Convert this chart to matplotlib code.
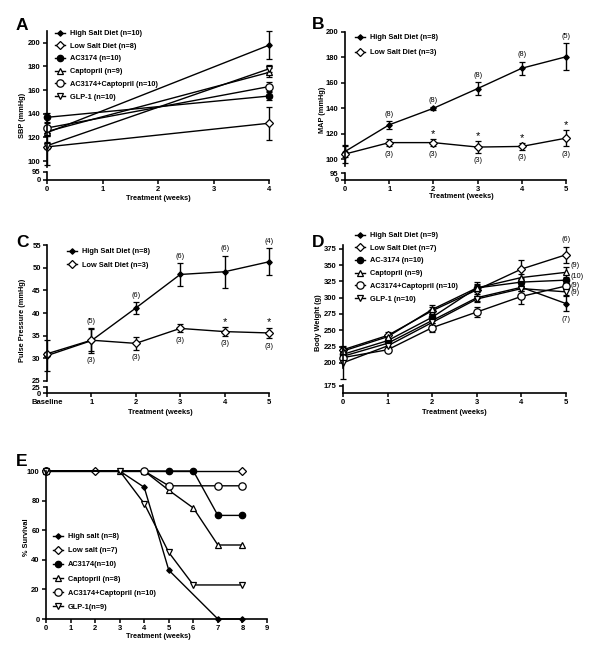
import matplotlib
matplotlib.use('Agg')
import matplotlib.pyplot as plt

plt.rcParams['font.family'] = ['Liberation Sans', 'DejaVu Sans']
plt.rcParams['font.weight'] = 'bold'

W, H = 600, 658

# ---- data ----
# A: systolic blood pressure
weeks_a = [0, 4]
sbp_high, sbp_high_err = [124, 198], [3, 12]
sbp_low, sbp_low_err = [112, 132], [15, 14]
sbp_ac, sbp_ac_err = [137, 155], [4, 3]
sbp_capt, sbp_capt_err = [125, 175], [4, 4]
sbp_combo, sbp_combo_err = [128, 163], [4, 4]
sbp_glp, sbp_glp_err = [113, 178], [3, 3]

# B: mean arterial pressure
weeks_b = [0, 1, 2, 3, 4, 5]
map_high, map_high_err = [106, 127, 140, 155.5, 171.5, 180.5], [4, 3, 1, 5, 5, 10.5]
map_low, map_low_err = [104, 113, 113, 109.5, 110, 116.5], [7, 3, 3, 4.5, 2.5, 6.5]
map_high_n = ['', '(8)', '(8)', '(8)', '(8)', '(5)']
map_low_n = ['', '(3)', '(3)', '(3)', '(3)', '(3)']
map_star = [False, False, True, True, True, True]

# C: pulse pressure
weeks_c = [0, 1, 2, 3, 4, 5]
weeks_c_labels = ['Baseline', '1', '2', '3', '4', '5']
pp_high, pp_high_err = [30.6, 33.9, 41.1, 48.5, 49.1, 51.3], [3.5, 2.7, 1.3, 2.5, 3.5, 3]
pp_low, pp_low_err = [31, 34, 33.3, 36.6, 35.9, 35.6], [0.5, 2.4, 1.5, 0.9, 1, 1.2]
pp_high_n = ['', '(5)', '(6)', '(6)', '(6)', '(4)']
pp_low_n = ['', '(3)', '(3)', '(3)', '(3)', '(3)']
pp_star = [False, False, False, False, True, True]

# D: body weight
weeks_d = [0, 1, 2, 3, 4, 5]
bw_high, bw_high_err = [210, 230, 265, 300, 316, 291], [4, 4, 4, 5, 5, 12]
bw_low, bw_low_err = [220, 242, 280, 312, 344, 366], [6, 5, 5, 12, 14, 12]
bw_ac, bw_ac_err = [213, 234, 270, 315, 324, 327], [4, 4, 5, 6, 5, 5]
bw_capt, bw_capt_err = [218, 240, 282, 315, 331, 339], [4, 4, 7, 5, 5, 8]
bw_combo, bw_combo_err = [208, 220, 254, 278, 302, 318], [4, 3, 7, 8, 11, 5]
bw_glp, bw_glp_err = [200, 226, 262, 298, 314, 309], [25, 4, 4, 4, 4, 5]

# E: survival
surv_high_x, surv_high = [0, 3, 4, 5, 7, 8], [100, 100, 89, 33, 0, 0]
surv_low_x, surv_low = [0, 2, 8], [100, 100, 100]
surv_ac_x, surv_ac = [0, 5, 6, 7, 8], [100, 100, 100, 70, 70]
surv_capt_x, surv_capt = [0, 3, 4, 5, 6, 7, 8], [100, 100, 100, 87, 75, 50, 50]
surv_combo_x, surv_combo = [0, 4, 5, 7, 8], [100, 100, 90, 90, 90]
surv_glp_x, surv_glp = [0, 3, 4, 5, 6, 8], [100, 100, 78, 45, 23, 23]

STYLE = {
    'high': dict(marker='D', ms=2.8, mfc='k'),
    'low': dict(marker='D', ms=4, mfc='white'),
    'ac': dict(marker='o', ms=4.6, mfc='k'),
    'capt': dict(marker='^', ms=4.6, mfc='white'),
    'combo': dict(marker='o', ms=5.3, mfc='white'),
    'glp': dict(marker='v', ms=4.6, mfc='white'),
}

TICK = 5.5
LABEL = 5.3
NOTE = 5.2


def rect(x0, x1, y0, y1):
    return [x0 / W, 1 - y1 / H, (x1 - x0) / W, (y1 - y0) / H]


def style_axis(ax):
    ax.spines['top'].set_visible(False)
    ax.spines['right'].set_visible(False)
    for s in ('left', 'bottom'):
        ax.spines[s].set_linewidth(1.2)
    ax.tick_params(direction='out', length=3, width=1.1, pad=1.5, labelsize=TICK)
    ax.patch.set_visible(False)


def broken_axes(fig, x0, x1, top, split, btop, bot):
    ax = fig.add_axes(rect(x0, x1, top, split))
    axb = fig.add_axes(rect(x0, x1, btop, bot), sharex=ax)
    style_axis(ax)
    style_axis(axb)
    ax.spines['bottom'].set_visible(False)
    ax.tick_params(axis='x', bottom=False, labelbottom=False)
    return ax, axb


def series(ax, x, y, err, key, label):
    if err is None:
        line, = ax.plot(x, y, color='k', lw=1, mec='k', mew=0.9, clip_on=False, **STYLE[key])
    else:
        eb = ax.errorbar(x, y, yerr=err, color='k', lw=1, elinewidth=1, capsize=2.5,
                         capthick=1, mec='k', mew=0.9, **STYLE[key])
        for art in eb.get_children():
            art.set_clip_on(False)
        line = eb[0]
    line.set_label(label)
    return line


def legend(fig, ax, handles, x, y, spacing):
    ax.legend(handles=handles, loc='upper left', bbox_to_anchor=(x / W, 1 - y / H),
              bbox_transform=fig.transFigure, frameon=False, fontsize=LABEL,
              handlelength=1.4, handletextpad=0.6, labelspacing=spacing,
              borderaxespad=0, borderpad=0)


def note(ax, x, y, text, dy, va, size=NOTE, weight='normal', dx=0, ha='center'):
    ax.annotate(text, (x, y), xytext=(dx, dy), textcoords='offset points', ha=ha, va=va,
                fontsize=size, fontweight=weight, annotation_clip=False)


def panel_text(fig, letter, x, y, ylabel, ylx, yly, xlabel, xlx, xly):
    fig.text(x / W, 1 - y / H, letter, fontsize=12.5, fontweight='bold', va='baseline')
    fig.text(ylx / W, 1 - yly / H, ylabel, rotation=90, fontsize=LABEL, ha='center', va='center')
    fig.text(xlx / W, 1 - xly / H, xlabel, fontsize=LABEL, ha='center', va='center')


def chart_a(fig):
    ax, axb = broken_axes(fig, 47, 269, 31, 167, 172, 180)
    hs = [
        series(ax, weeks_a, sbp_high, sbp_high_err, 'high', 'High Salt Diet (n=10)'),
        series(ax, weeks_a, sbp_low, sbp_low_err, 'low', 'Low Salt Diet (n=8)'),
        series(ax, weeks_a, sbp_ac, sbp_ac_err, 'ac', 'AC3174 (n=10)'),
        series(ax, weeks_a, sbp_capt, sbp_capt_err, 'capt', 'Captopril (n=9)'),
        series(ax, weeks_a, sbp_combo, sbp_combo_err, 'combo', 'AC3174+Captopril (n=10)'),
        series(ax, weeks_a, sbp_glp, sbp_glp_err, 'glp', 'GLP-1 (n=10)'),
    ]
    ax.set_ylim(95, 210)
    ax.set_yticks(range(100, 201, 20))
    axb.set_ylim(0, 95)
    axb.set_yticks([0, 95])
    axb.set_xlim(0, 4)
    axb.set_xticks(range(0, 5))
    legend(fig, ax, hs, 55, 30, 0.75)
    panel_text(fig, 'A', 16, 30, 'SBP (mmHg)', 22, 115, 'Treatment (weeks)', 158, 199)


def chart_b(fig):
    ax, axb = broken_axes(fig, 345, 566, 32, 165.5, 173, 180)
    hs = [
        series(ax, weeks_b, map_high, map_high_err, 'high', 'High Salt Diet (n=8)'),
        series(ax, weeks_b, map_low, map_low_err, 'low', 'Low Salt Diet (n=3)'),
    ]
    for i, x in enumerate(weeks_b):
        if map_high_n[i]:
            note(ax, x, map_high[i] + map_high_err[i], map_high_n[i], 2.5, 'bottom')
        if map_low_n[i]:
            note(ax, x, map_low[i] - map_low_err[i], map_low_n[i], -3, 'top')
        if map_star[i]:
            note(ax, x, map_low[i] + map_low_err[i], '*', 0, 'bottom', size=8)
    ax.set_ylim(95, 200)
    ax.set_yticks(range(100, 201, 20))
    axb.set_ylim(0, 95)
    axb.set_yticks([0, 95])
    axb.set_xlim(0, 5)
    axb.set_xticks(weeks_b)
    legend(fig, ax, hs, 355, 34, 1.1)
    panel_text(fig, 'B', 312, 29, 'MAP (mmHg)', 322, 110, 'Treatment (weeks)', 461, 197)


def chart_c(fig):
    ax, axb = broken_axes(fig, 47, 269, 245, 381, 387, 393)
    hs = [
        series(ax, weeks_c, pp_high, pp_high_err, 'high', 'High Salt Diet (n=8)'),
        series(ax, weeks_c, pp_low, pp_low_err, 'low', 'Low Salt Diet (n=3)'),
    ]
    for i, x in enumerate(weeks_c):
        top = max(pp_high[i] + pp_high_err[i], pp_low[i] + pp_low_err[i])
        bot = min(pp_high[i] - pp_high_err[i], pp_low[i] - pp_low_err[i])
        if pp_high_n[i]:
            note(ax, x, top, pp_high_n[i], 2.5, 'bottom')
        if pp_low_n[i]:
            note(ax, x, bot, pp_low_n[i], -3, 'top')
        if pp_star[i]:
            note(ax, x, pp_low[i] + pp_low_err[i], '*', 0, 'bottom', size=8)
    ax.set_ylim(25, 55)
    ax.set_yticks(range(25, 56, 5))
    axb.set_ylim(0, 25)
    axb.set_yticks([0, 25])
    axb.set_xlim(0, 5)
    axb.set_xticks(weeks_c)
    axb.set_xticklabels(weeks_c_labels)
    legend(fig, ax, hs, 67, 248, 0.9)
    panel_text(fig, 'C', 16, 247, 'Pulse Pressure (mmHg)', 23, 320, 'Treatment (weeks)', 160, 413)


def chart_d(fig):
    ax, axb = broken_axes(fig, 343, 566, 245, 368, 385, 393)
    hs = [
        series(ax, weeks_d, bw_high, bw_high_err, 'high', 'High Salt Diet (n=9)'),
        series(ax, weeks_d, bw_low, bw_low_err, 'low', 'Low Salt Diet (n=7)'),
        series(ax, weeks_d, bw_ac, bw_ac_err, 'ac', 'AC-3174 (n=10)'),
        series(ax, weeks_d, bw_capt, bw_capt_err, 'capt', 'Captopril (n=9)'),
        series(ax, weeks_d, bw_combo, bw_combo_err, 'combo', 'AC3174+Captopril (n=10)'),
        series(ax, weeks_d, bw_glp, bw_glp_err, 'glp', 'GLP-1 (n=10)'),
    ]
    last = weeks_d[-1]
    note(ax, last, bw_low[-1] + bw_low_err[-1], '(6)', 2.5, 'bottom')
    note(ax, last, bw_high[-1] - bw_high_err[-1], '(7)', -3, 'top')
    note(ax, last, bw_capt[-1], '(9)', 5, 'center', dx=3.3, ha='left')
    note(ax, last, bw_ac[-1], '(10)', 2.6, 'center', dx=3.3, ha='left')
    note(ax, last, bw_combo[-1], '(9)', 0.7, 'center', dx=3.3, ha='left')
    note(ax, last, bw_glp[-1], '(9)', -0.7, 'center', dx=3.3, ha='left')
    ax.set_ylim(192, 381)
    ax.set_yticks(range(200, 376, 25))
    axb.set_ylim(168, 176)
    axb.set_yticks([175])
    axb.set_xlim(0, 5)
    axb.set_xticks(weeks_d)
    legend(fig, ax, hs, 355, 232, 0.75)
    panel_text(fig, 'D', 312, 247, 'Body Weight (g)', 318, 323, 'Treatment (weeks)', 454, 413)


def chart_e(fig):
    ax = fig.add_axes(rect(46, 267, 471, 619))
    style_axis(ax)
    hs = [
        series(ax, surv_high_x, surv_high, None, 'high', 'High salt (n=8)'),
        series(ax, surv_low_x, surv_low, None, 'low', 'Low salt (n=7)'),
        series(ax, surv_ac_x, surv_ac, None, 'ac', 'AC3174(n=10)'),
        series(ax, surv_capt_x, surv_capt, None, 'capt', 'Captopril (n=8)'),
        series(ax, surv_combo_x, surv_combo, None, 'combo', 'AC3174+Captopril (n=10)'),
        series(ax, surv_glp_x, surv_glp, None, 'glp', 'GLP-1(n=9)'),
    ]
    ax.set_ylim(0, 100)
    ax.set_yticks(range(0, 101, 20))
    ax.set_xlim(0, 9)
    ax.set_xticks(range(0, 10))
    legend(fig, ax, hs, 53, 533, 0.95)
    panel_text(fig, 'E', 16, 466, '% Survival', 27, 537, 'Treatment (weeks)', 158, 637)


def main():
    fig = plt.figure(figsize=(W / 100, H / 100), dpi=100)
    chart_a(fig)
    chart_b(fig)
    chart_c(fig)
    chart_d(fig)
    chart_e(fig)
    fig.savefig('out.png', dpi=100)


if __name__ == "__main__":
    main()
